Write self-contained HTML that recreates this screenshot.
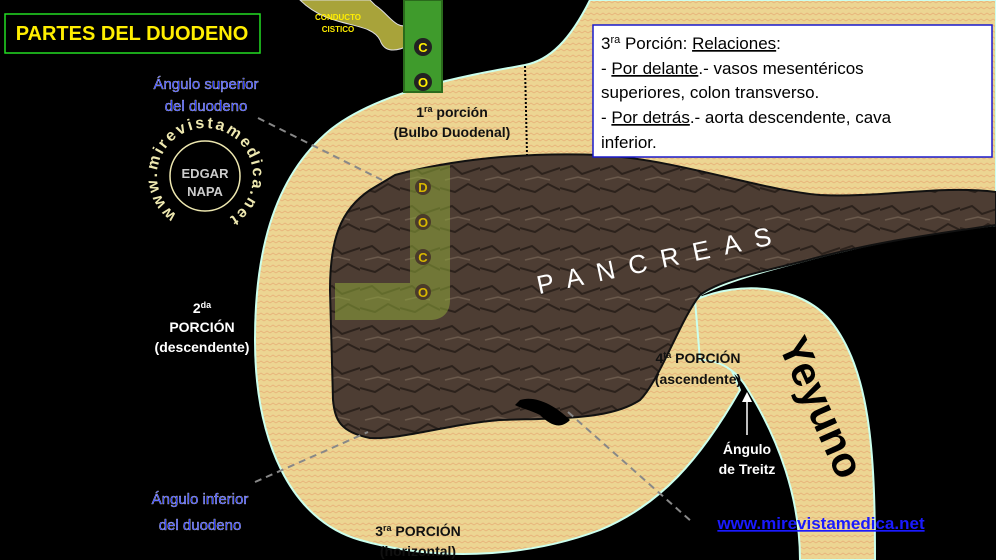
<!DOCTYPE html>
<html><head><meta charset="utf-8"><style>
html,body{margin:0;padding:0;background:#000;width:996px;height:560px;overflow:hidden}
svg{display:block;font-family:"Liberation Sans",sans-serif}
</style></head><body>
<svg width="996" height="560" viewBox="0 0 996 560">
<defs>
<pattern id="bg" width="6" height="6" patternUnits="userSpaceOnUse">
<rect width="6" height="6" fill="#ecd592"/><path d="M0 3 L3 1 L6 3" stroke="#e8b27a" stroke-width="0.8" fill="none"/>
</pattern>
<pattern id="pc" width="40" height="40" patternUnits="userSpaceOnUse">
<rect width="40" height="40" fill="#4d3d33"/><path d="M0 10 L12 6 L22 14 L40 8 M0 28 L15 32 L28 24 L40 30" stroke="#2c221c" stroke-width="2" fill="none"/><path d="M5 20 L18 17 L30 20" stroke="#6b5a4c" stroke-width="1.5" fill="none"/>
</pattern>
<path id="circ" d="M205,224 A48,48 0 1,1 205.1,224"/>
</defs>
<rect width="996" height="560" fill="#000"/>
<path d="M300,0 C330,30 370,20 380,40 C385,55 400,50 410,45 L410,25 C395,30 390,15 375,5 L370,0 Z" fill="#a8a33a" stroke="#ddd" stroke-width="1"/>
<path d="M590,0 C570,40 550,60 525,65 C470,75 380,90 330,130 C270,180 255,260 255,340 C255,440 290,520 360,540 C430,560 520,560 600,530 C660,505 700,460 740,390 L700,295 C730,280 770,270 800,262 C880,240 940,232 996,225 L996,0 Z" fill="url(#bg)" stroke="#cfe" stroke-width="2"/>
<rect x="404" y="0" width="38" height="92" fill="#3f9b2c" stroke="#2a6a1c" stroke-width="2"/>
<path d="M695,300 C740,280 800,285 830,320 C870,370 875,450 875,560 L800,560 C800,500 780,440 745,385 C735,370 720,360 700,360 Z" fill="url(#bg)" stroke="#cfe" stroke-width="2"/>
<path d="M395,175 C450,160 520,152 600,155 C680,160 760,190 820,195 C880,198 940,185 996,192 L996,225 C950,232 880,240 800,262 C760,272 720,280 700,295 C680,320 660,380 640,400 C610,420 560,418 500,420 C450,424 400,440 370,438 C340,432 335,420 333,400 L330,290 C330,240 340,210 370,190 Z" fill="url(#pc)" stroke="#111" stroke-width="2"/>
<path d="M410,170 L450,165 L450,300 C450,315 440,320 430,320 L335,320 L335,283 L410,283 Z" fill="#8fa83a" fill-opacity="0.55"/>
<path d="M520,400 C535,395 555,405 570,420 C560,430 550,425 540,415 C530,410 520,408 515,405 Z" fill="#000"/>
<line x1="525" y1="66" x2="527" y2="155" stroke="#000" stroke-width="2" stroke-dasharray="2,2"/>
<g stroke="#888" stroke-width="2" stroke-dasharray="7,5">
<line x1="258" y1="118" x2="382" y2="180"/><line x1="255" y1="482" x2="368" y2="432"/><line x1="568" y1="412" x2="692" y2="522"/></g>
<g font-weight="bold" font-size="13" fill="#ffee00" text-anchor="middle">
<circle cx="423" cy="47" r="9" fill="#222"/><text x="423" y="52">C</text>
<circle cx="423" cy="82" r="9" fill="#222"/><text x="423" y="87">O</text>
<g fill="#d8b600"><circle cx="423" cy="187" r="8" fill="#4a3a2a"/><text x="423" y="192">D</text>
<circle cx="423" cy="222" r="8" fill="#4a3a2a"/><text x="423" y="227">O</text>
<circle cx="423" cy="257" r="8" fill="#4a3a2a"/><text x="423" y="262">C</text>
<circle cx="423" cy="292" r="8" fill="#4a3a2a"/><text x="423" y="297">O</text></g>
</g>
<text x="338" y="20" font-size="8" font-weight="bold" fill="#ffee00" text-anchor="middle">CONDUCTO</text>
<text x="338" y="32" font-size="8" font-weight="bold" fill="#ffee00" text-anchor="middle">CISTICO</text>
<rect x="5" y="14" width="255" height="39" fill="#000" stroke="#22dd22" stroke-width="1.5"/>
<text x="132" y="40" font-size="20" font-weight="bold" fill="#ffee00" text-anchor="middle">PARTES DEL DUODENO</text>
<rect x="593" y="25" width="399" height="132" fill="#fff" stroke="#1a1acc" stroke-width="1.5"/>
<g font-size="17" fill="#000">
<text x="601" y="49">3<tspan font-size="11" dy="-6">ra</tspan><tspan dy="6"> Porción: </tspan><tspan text-decoration="underline">Relaciones</tspan>:</text>
<text x="601" y="74">- <tspan text-decoration="underline">Por delante</tspan>.- vasos mesentéricos</text>
<text x="601" y="98">superiores, colon transverso.</text>
<text x="601" y="123">- <tspan text-decoration="underline">Por detrás</tspan>.- aorta descendente, cava</text>
<text x="601" y="148">inferior.</text></g>
<g font-size="15" fill="#2233ff" text-anchor="middle" stroke="#fff" stroke-width="0.3">
<text x="206" y="89">Ángulo superior</text><text x="206" y="111">del duodeno</text>
<text x="200" y="504">Ángulo inferior</text><text x="200" y="530">del duodeno</text></g>
<g font-weight="bold" font-size="14" fill="#111" text-anchor="middle">
<text x="452" y="117">1<tspan font-size="9" dy="-5">ra</tspan><tspan dy="5"> porción</tspan></text>
<text x="452" y="137">(Bulbo Duodenal)</text>
<text x="698" y="363">4<tspan font-size="9" dy="-5">ta</tspan><tspan dy="5"> PORCIÓN</tspan></text>
<text x="698" y="384">(ascendente)</text>
<text x="418" y="536">3<tspan font-size="9" dy="-5">ra</tspan><tspan dy="5"> PORCIÓN</tspan></text>
<text x="418" y="556">(horizontal)</text></g>
<g font-weight="bold" font-size="14" fill="#fff" text-anchor="middle">
<text x="202" y="313">2<tspan font-size="9" dy="-5">da</tspan></text>
<text x="202" y="332">PORCIÓN</text><text x="202" y="352">(descendente)</text>
<text x="747" y="454">Ángulo</text><text x="747" y="474">de Treitz</text></g>
<line x1="747" y1="435" x2="747" y2="400" stroke="#fff" stroke-width="1.5"/>
<path d="M742,402 L747,392 L752,402 Z" fill="#fff"/>
<text x="530" y="270" font-size="26" fill="#fff" letter-spacing="14" transform="rotate(-12 650 240)">PANCREAS</text>
<text x="0" y="0" font-size="42" font-weight="bold" fill="#000" transform="translate(778,345) rotate(66)">Yeyuno</text>
<text x="821" y="529" font-size="17" font-weight="bold" fill="#1a1aff" text-anchor="middle" text-decoration="underline">www.mirevistamedica.net</text>
<circle cx="205" cy="176" r="35" fill="none" stroke="#eee8b0" stroke-width="1.5"/>
<text font-size="16" font-weight="bold" fill="#eee8b0"><textPath href="#circ" startOffset="30" textLength="245" lengthAdjust="spacing">www.mirevistamedica.net</textPath></text>
<text x="205" y="178" font-size="13" font-weight="bold" fill="#ccc" text-anchor="middle">EDGAR</text>
<text x="205" y="196" font-size="13" font-weight="bold" fill="#ccc" text-anchor="middle">NAPA</text>
</svg>
</body></html>
